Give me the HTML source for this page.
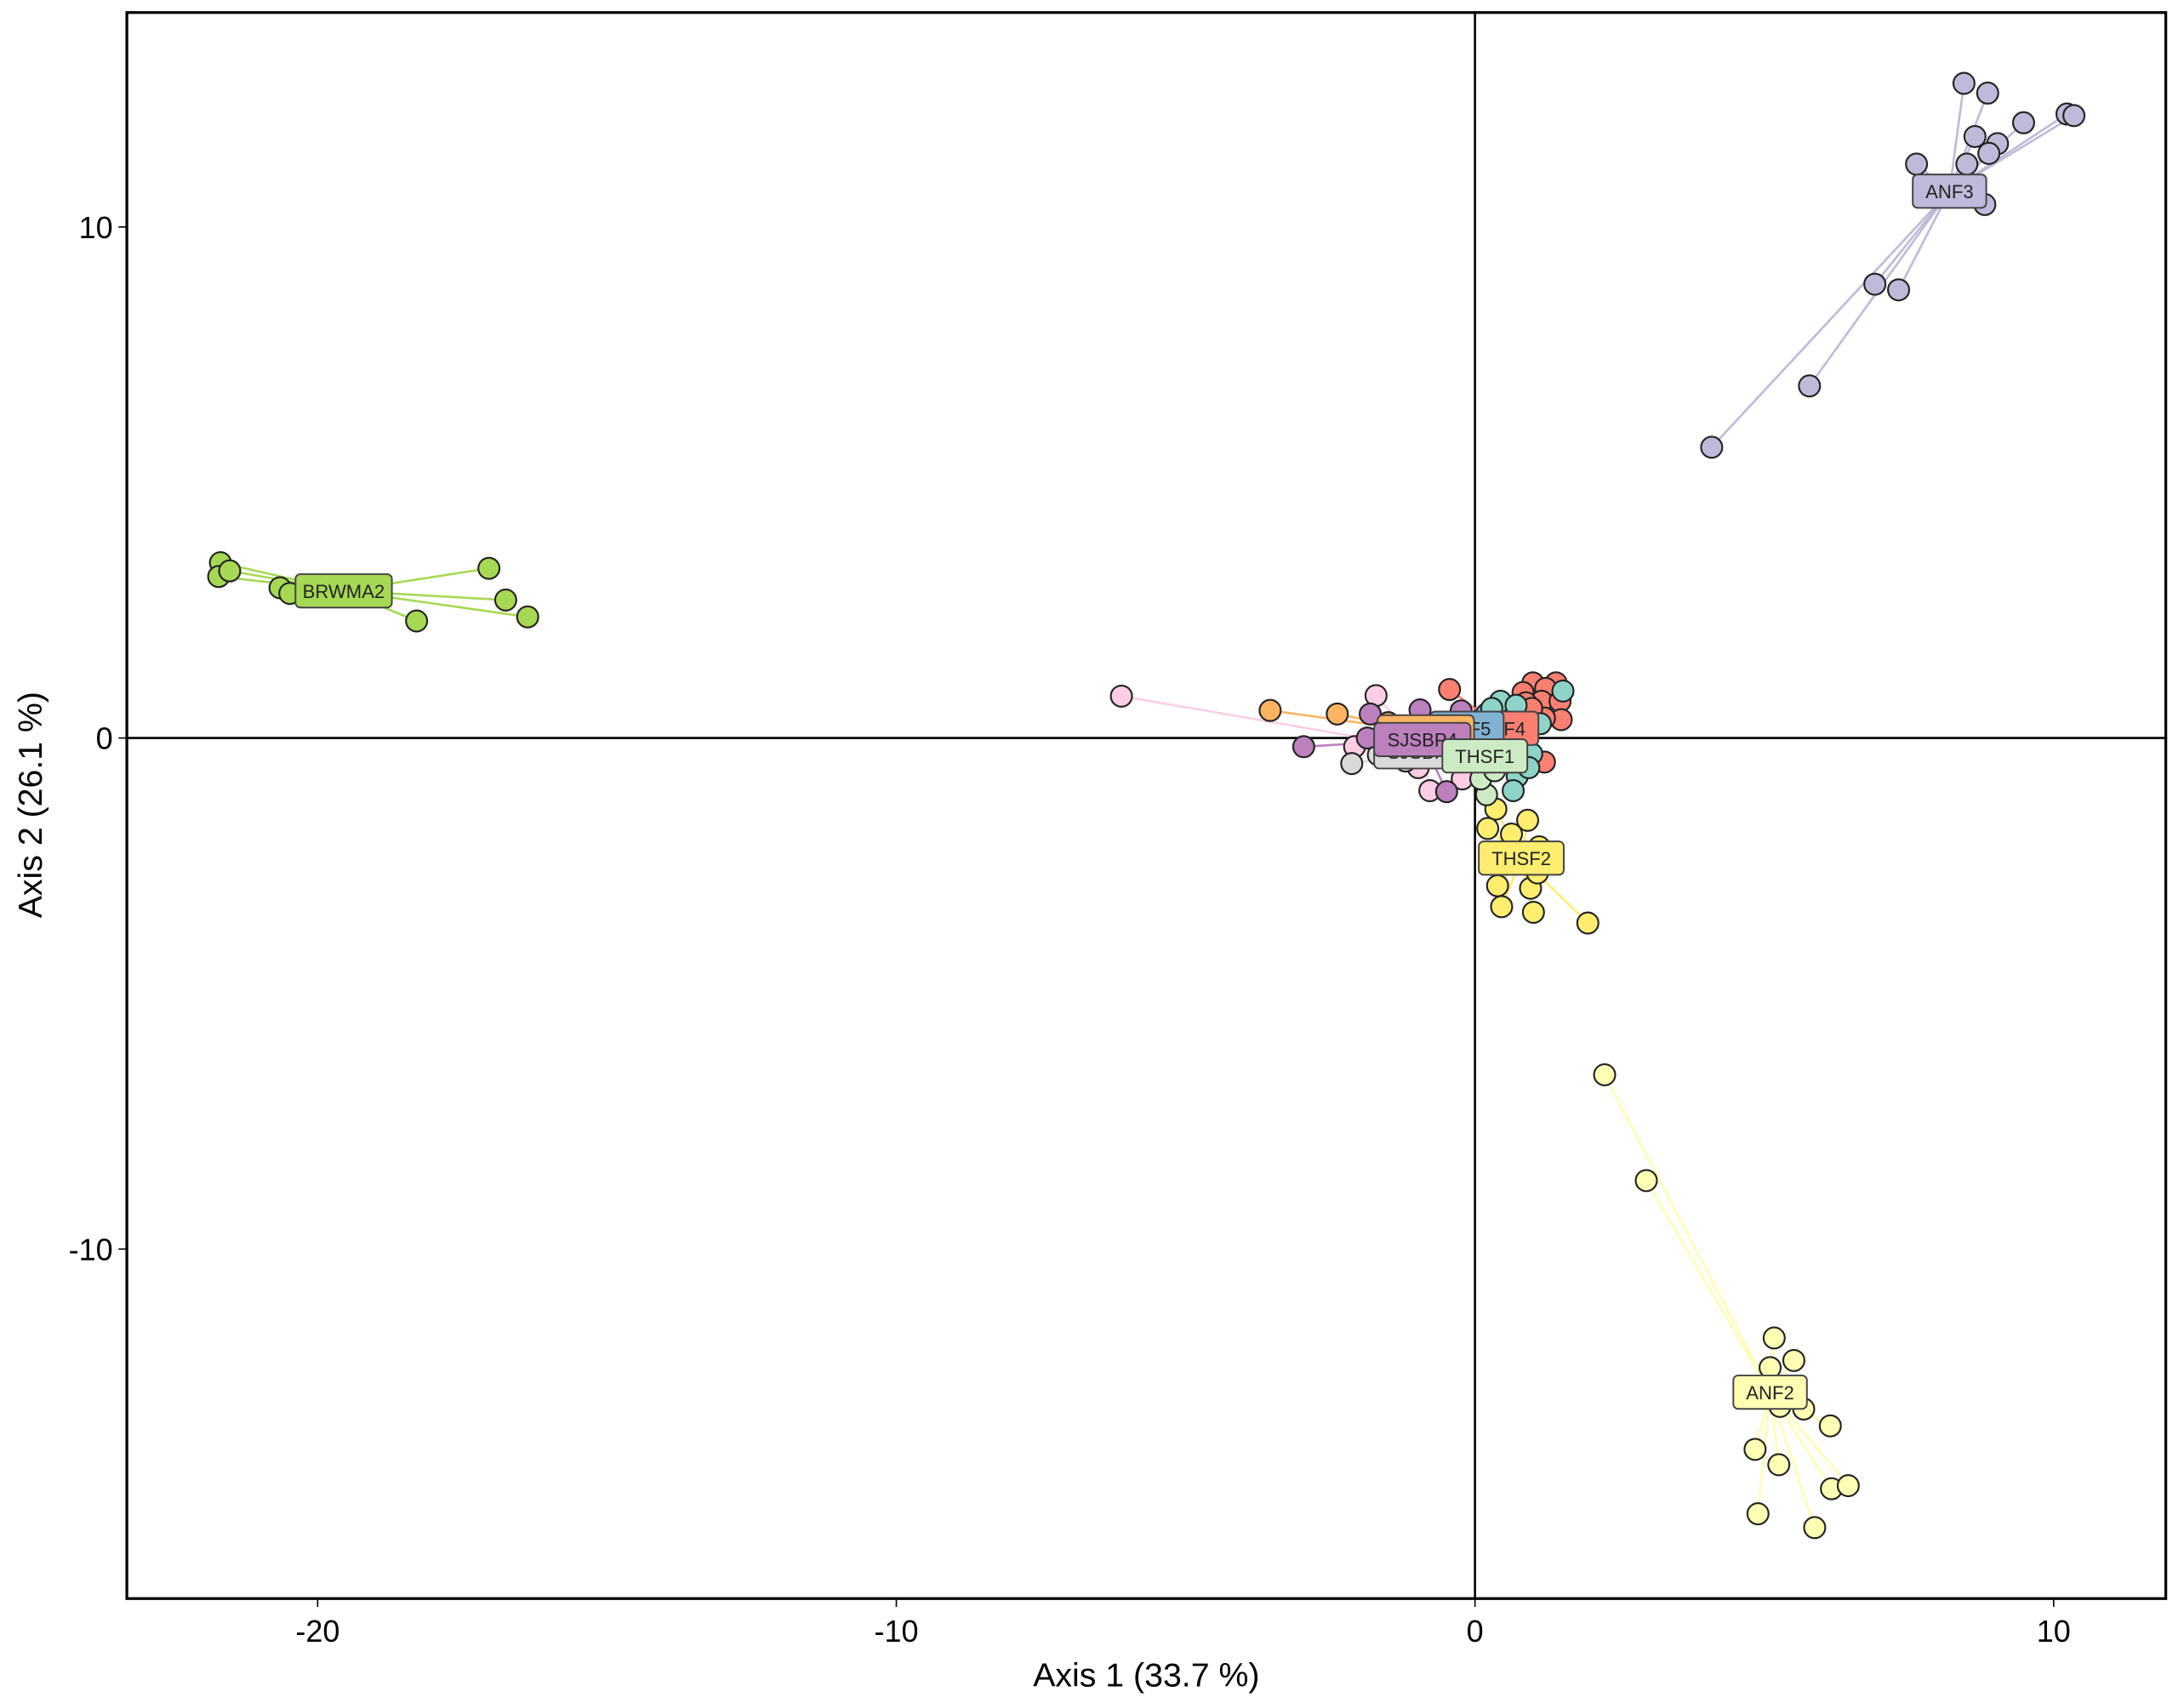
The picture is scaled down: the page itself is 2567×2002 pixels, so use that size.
<!DOCTYPE html>
<html><head><meta charset="utf-8"><title>PCoA ordination</title>
<style>
html,body{margin:0;padding:0;background:#fff;}
svg{display:block;}
text{font-family:"Liberation Sans",Arial,sans-serif;}
</style></head>
<body>
<svg id="chart" width="2567" height="2002" viewBox="0 0 1568 1223" xmlns="http://www.w3.org/2000/svg">
<rect x="0" y="0" width="1568" height="1223" fill="#fff"/>
<g id="axes"></g>
<g id="spiders"></g>
<g id="points"></g>
<g id="labels"></g>
</svg>
<script>
// ---- data (axis units) ----
const groupNames = ["BRWMA2","ANF3","ANF2","THSF2","SJSBP1","SJSBP2","ANF4","ANF5","SJSBP3","SJSBP4","THSF1","THSF3"];
const groupColors = ["#A6D854","#BEBADA","#FFFFB3","#FFED6F","#FCCDE5","#D9D9D9","#FB8072","#80B1D3","#FDB462","#BC80BD","#CCEBC5","#8DD3C7"];
const labelX = [-19.55, 8.2, 5.1, 0.8, -0.9, -0.91, 0.46, -0.14, -0.85, -0.91, 0.17, 0.8];
const labelY = [2.88, 10.7, -12.8, -2.35, -0.2, -0.27, 0.19, 0.19, 0.12, -0.03, -0.35, -0.3];
const showLabel = [true,true,true,true,false,true,true,true,true,true,true,false];
const ptsX = [
 [-21.68,-21.71,-21.52,-20.65,-20.48,-17.04,-16.75,-16.37,-18.29],
 [8.45,8.86,9.48,10.23,10.35,8.64,9.03,8.88,7.63,8.50,8.81,6.91,7.32,5.78,4.09],
 [2.24,2.96,5.17,5.10,5.51,5.27,5.68,6.14,4.84,5.25,6.16,6.45,4.89,5.87],
 [0.36,0.91,0.22,0.63,1.11,0.39,0.96,0.46,1.01,1.95,1.08],
 [-6.11,-1.71,-2.08,-0.78,-0.22,-0.98],
 [-2.13,-1.67,-1.2,-0.6],
 [-0.44,1.00,1.40,0.83,1.22,1.15,1.47,1.49,1.20,1.20,0.88,0.98],
 [0.20,0.29,0.10],
 [-3.54,-2.38,-1.5,-0.8],
 [-2.96,-1.81,-0.95,-0.49,-1.86,-0.24],
 [0.20,0.10,0.34,0.20],
 [0.44,1.52,0.71,1.13,0.98,0.73,0.66,0.93,0.29]
];
const ptsY = [
 [3.43,3.16,3.27,2.94,2.83,3.32,2.70,2.37,2.29],
 [12.81,12.62,12.04,12.21,12.18,11.77,11.63,11.44,11.23,11.23,10.44,8.88,8.77,6.89,5.69],
 [-6.59,-8.66,-11.74,-12.32,-12.18,-13.08,-13.13,-13.46,-13.92,-14.22,-14.69,-14.63,-15.18,-15.45],
 [-1.39,-1.61,-1.77,-1.88,-2.13,-2.89,-2.94,-3.30,-3.41,-3.62,-2.64],
 [0.82,0.83,-0.17,-1.03,-0.80,-0.58],
 [-0.50,-0.33,-0.45,-0.2],
 [0.95,1.08,1.08,0.89,0.97,0.72,0.72,0.36,0.39,-0.47,0.69,0.58],
 [0.47,0.14,0.31],
 [0.54,0.47,0.3,0.2],
 [-0.17,0.47,0.55,-1.05,0.0,0.53],
 [-1.11,-0.80,-0.64,-0.47],
 [0.72,0.92,0.64,0.28,-0.31,-0.75,-1.03,-0.58,0.58]
];
const xTicks = [-20,-10,0,10];
const yTicks = [10,0,-10];
const xTitle = "Axis 1 (33.7 %)";
const yTitle = "Axis 2 (26.1 %)";
const labelOrder = [0,1,2,3,6,7,8,5,9,10];

// ---- scales ----
const L=91,R=1555,T=9,B=1148;
function sx(v){return 1059+v*41.55;}
function sy(v){return 530-v*36.7;}
const NS="http://www.w3.org/2000/svg";
function mk(tag,attrs,parent){const e=document.createElementNS(NS,tag);for(const k in attrs)e.setAttribute(k,attrs[k]);parent.appendChild(e);return e;}

const axes=document.getElementById('axes');
const frame=mk('rect',{x:L,y:T,width:R-L,height:B-T,fill:'none',stroke:'#000','stroke-width':2},axes);


const vz=mk('line',{x1:sx(0),x2:sx(0),y1:T,y2:B,stroke:'#000','stroke-width':1.6},axes);


const hz=mk('line',{x1:L,x2:R,y1:sy(0),y2:sy(0),stroke:'#000','stroke-width':1.6},axes);


xTicks.forEach(t=>{
  const tk=mk('line',{x1:sx(t),x2:sx(t),y1:B,y2:B+6,stroke:'#000','stroke-width':1},axes);
  
  
  const tl=mk('text',{x:sx(t),y:B+31,'text-anchor':'middle','font-size':22,fill:'#000'},axes);
  tl.textContent=t;
  
  
});
yTicks.forEach(t=>{
  const tk=mk('line',{x1:L-6,x2:L,y1:sy(t),y2:sy(t),stroke:'#000','stroke-width':1},axes);
  
  
  const tl=mk('text',{x:L-10,y:sy(t)+8,'text-anchor':'end','font-size':22,fill:'#000'},axes);
  tl.textContent=t;
  
  
});
const xt=mk('text',{x:823,y:1211,'text-anchor':'middle','font-size':24,fill:'#000'},axes);
xt.textContent=xTitle;


const yt=mk('text',{x:30,y:578,'text-anchor':'middle','font-size':24,fill:'#000',transform:'rotate(-90 30 578)'},axes);
yt.textContent=yTitle;



const spiders=document.getElementById('spiders'),points=document.getElementById('points'),labels=document.getElementById('labels');
groupNames.forEach((g,i)=>{
  ptsX[i].forEach((xv,j)=>{
    const ln=mk('line',{x1:sx(labelX[i]),y1:sy(labelY[i]),x2:sx(xv),y2:sy(ptsY[i][j]),stroke:groupColors[i],'stroke-width':1.6},spiders);
    
    
  });
});
groupNames.forEach((g,i)=>{
  ptsX[i].forEach((xv,j)=>{
    const c=mk('circle',{cx:sx(xv),cy:sy(ptsY[i][j]),r:7.6,fill:groupColors[i],stroke:'#222','stroke-width':1.3},points);
    
    
  });
});
labelOrder.forEach(i=>{
  if(!showLabel[i])return;
  const w=groupNames[i].length*8.2+20,h=24;
  const gx=sx(labelX[i]),gy=sy(labelY[i]);
  const g=mk('g',{},labels);
  
  
  mk('rect',{x:gx-w/2,y:gy-h/2,width:w,height:h,rx:3.5,ry:3.5,fill:groupColors[i],stroke:'#444','stroke-width':1.2},g);
  const t=mk('text',{x:gx,y:gy+5,'text-anchor':'middle','font-size':13.5,fill:'#222'},g);
  t.textContent=groupNames[i];
});
</script>
</body></html>
